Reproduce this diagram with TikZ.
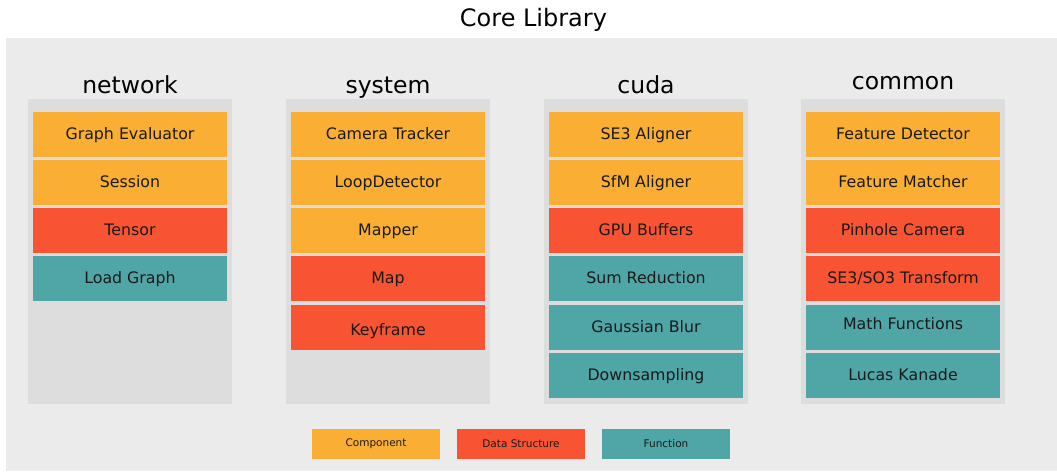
\documentclass[tikz,border=0pt]{standalone}
\usepackage{fontspec}
\setmainfont{DejaVu Sans}
\usetikzlibrary{positioning}
\definecolor{compfill}{HTML}{FAAF34}
\definecolor{datafill}{HTML}{F85433}
\definecolor{funcfill}{HTML}{50A5A6}
\definecolor{outerfill}{HTML}{EBEBEB}
\definecolor{groupfill}{HTML}{DDDDDD}
\definecolor{labeltext}{HTML}{1A1A1A}
\tikzset{
	groupbox/.style={fill=groupfill, minimum width=204pt, minimum height=305pt, inner sep=0pt},
	entry/.style={minimum width=194pt, minimum height=45pt, inner sep=0pt, text height=12pt, text depth=2.5pt, text=labeltext, font=\fontsize{15.8}{19}\selectfont},
	compbox/.style={entry, fill=compfill},
	databox/.style={entry, fill=datafill},
	funcbox/.style={entry, fill=funcfill},
	heading/.style={anchor=base, font=\fontsize{23.5}{28}\selectfont},
	legendbox/.style={minimum width=128pt, minimum height=30pt, inner sep=0pt, text=labeltext, font=\fontsize{10.5}{12}\selectfont}
}
\begin{document}
\begin{tikzpicture}[x=1pt, y=-1pt]
		\useasboundingbox (0,0) rectangle (1057,471);
		\fill[outerfill] (6,38) rectangle (1057,471);
		\node (title) at (533.5,27) [anchor=base, font=\fontsize{24}{29}\selectfont] {Core Library};
		\foreach \x/\y/\g/\h in {130/93/net/network, 388/93/sys/system, 646/93/cuda/cuda, 903/89/com/common} {
			\node (\g) at (\x,251.5) [groupbox] {};
			\node (\g head) at (\x,\y) [heading] {\h};
		}
		\foreach \r/\y/\s/\t in {1/134.5/compbox/Graph Evaluator, 2/182.5/compbox/Session, 3/230.5/databox/Tensor, 4/278.5/funcbox/Load Graph} {
			\node (net\r) at (130,\y) [\s] {\t};
		}
		\foreach \r/\y/\s/\t in {1/134.5/compbox/Camera Tracker, 2/182.5/compbox/LoopDetector, 3/230.5/compbox/Mapper, 4/278.5/databox/Map, 5/327.5/databox/\raisebox{-3pt}{Keyframe}} {
			\node (sys\r) at (388,\y) [\s] {\t};
		}
		\foreach \r/\y/\s/\t in {1/134.5/compbox/SE3 Aligner, 2/182.5/compbox/SfM Aligner, 3/230.5/databox/GPU Buffers, 4/278.5/funcbox/Sum Reduction, 5/327.5/funcbox/Gaussian Blur, 6/375.5/funcbox/Downsampling} {
			\node (cuda\r) at (646,\y) [\s] {\t};
		}
		\foreach \r/\y/\s/\t in {1/134.5/compbox/Feature Detector, 2/182.5/compbox/Feature Matcher, 3/230.5/databox/Pinhole Camera, 4/278.5/databox/{SE3/SO3 Transform}, 5/327.5/funcbox/\raisebox{3pt}{Math Functions}\hspace{12pt}, 6/375.5/funcbox/Lucas Kanade} {
			\node (com\r) at (903,\y) [\s] {\t};
		}
		\node (leg comp) at (376,444) [legendbox, fill=compfill] {Component};
		\node (leg data) at (521,444) [legendbox, fill=datafill] {Data Structure};
		\node (leg func) at (666,444) [legendbox, fill=funcfill] {Function};
	\end{tikzpicture}
\end{document}
